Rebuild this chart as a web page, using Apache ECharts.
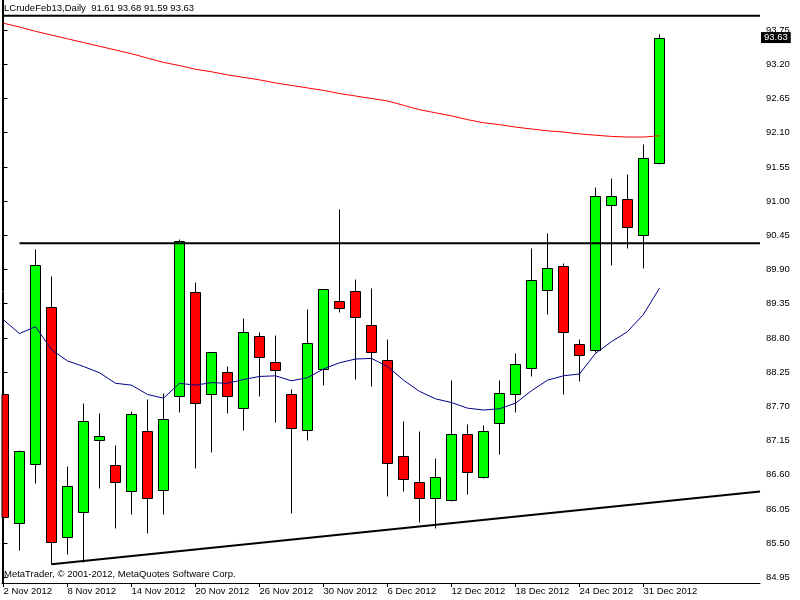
<!DOCTYPE html>
<html>
<head>
<meta charset="utf-8">
<script src="https://cdn.jsdelivr.net/npm/echarts@6/dist/echarts.min.js"></script>
<style>
html,body{margin:0;padding:0;background:#fff;}
#chart{width:800px;height:600px;}
</style>
</head>
<body>
<div id="chart"></div>
<script>
// ---- data ----
var dates = ['2 Nov 2012','5 Nov 2012','6 Nov 2012','7 Nov 2012','8 Nov 2012','9 Nov 2012','12 Nov 2012','13 Nov 2012',
  '14 Nov 2012','15 Nov 2012','16 Nov 2012','19 Nov 2012','20 Nov 2012','21 Nov 2012','22 Nov 2012','23 Nov 2012',
  '26 Nov 2012','27 Nov 2012','28 Nov 2012','29 Nov 2012','30 Nov 2012','3 Dec 2012','4 Dec 2012','5 Dec 2012',
  '6 Dec 2012','7 Dec 2012','10 Dec 2012','11 Dec 2012','12 Dec 2012','13 Dec 2012','14 Dec 2012','17 Dec 2012',
  '18 Dec 2012','19 Dec 2012','20 Dec 2012','21 Dec 2012','24 Dec 2012','26 Dec 2012','27 Dec 2012','28 Dec 2012',
  '31 Dec 2012','2 Jan 2013'];
var opens  = [87.90,85.83,86.77,89.29,85.59,86.00,87.15,86.75,86.33,87.30,86.35,87.87,89.53,87.89,88.25,87.68,
  88.83,88.42,87.89,87.32,88.30,89.39,89.55,89.00,88.44,86.90,86.49,86.22,86.19,87.25,86.56,87.43,
  87.89,88.31,89.57,89.95,88.70,88.60,90.93,91.03,90.45,91.61];
var highs  = [88.23,86.99,90.23,89.80,86.74,87.75,87.60,87.08,87.62,87.82,87.91,90.39,89.70,88.58,88.35,89.12,
  88.90,88.85,87.98,89.27,89.59,90.87,89.75,89.60,88.78,87.46,87.30,86.87,88.12,87.42,87.40,88.12,
  88.56,90.25,90.48,90.00,88.78,91.23,91.37,91.44,91.92,93.68];
var lows   = [85.76,85.39,86.46,85.16,85.32,85.20,86.38,85.74,85.96,85.67,85.96,87.61,86.70,86.97,87.60,87.32,
  87.87,87.44,85.98,87.15,88.05,89.21,88.14,88.02,86.25,86.33,85.84,85.74,86.17,86.29,86.54,86.94,
  87.61,88.19,89.19,87.89,88.11,88.57,89.98,90.25,89.93,91.59];
var closes = [85.92,86.98,89.97,85.52,86.41,87.47,87.23,86.48,87.57,86.22,87.49,90.36,87.75,88.57,87.86,88.89,
  88.49,88.28,87.35,88.71,89.58,89.28,89.13,88.57,86.78,86.53,86.22,86.57,87.25,86.64,87.30,87.91,
  88.38,89.73,89.92,88.89,88.52,91.08,91.08,90.58,91.69,93.63];
var maFast = [89.09,88.87,88.98,88.61,88.43,88.34,88.24,88.07,88.04,87.89,87.83,88.07,88.04,88.08,88.07,88.13,
  88.18,88.19,88.11,88.16,88.30,88.40,88.46,88.47,88.34,88.12,87.94,87.82,87.76,87.67,87.64,87.66,
  87.75,87.95,88.12,88.19,88.22,88.55,88.74,88.90,89.18,89.60];
var maSlow = [93.86,93.80,93.73,93.67,93.61,93.55,93.49,93.43,93.37,93.30,93.23,93.18,93.12,93.08,93.03,92.99,
  92.95,92.90,92.86,92.82,92.78,92.73,92.69,92.65,92.61,92.54,92.47,92.42,92.37,92.31,92.26,92.23,
  92.19,92.16,92.13,92.11,92.08,92.06,92.04,92.03,92.03,92.05];
var yTicks = [84.95,85.50,86.05,86.60,87.15,87.70,88.25,88.80,89.35,89.90,90.45,91.00,91.55,92.10,92.65,93.20,93.75];
var xTickIdx = [0,4,8,12,16,20,24,28,32,36,40];
var lastPrice = 93.63;
var resistance = 90.32;     // horizontal line, from bar 1
var topLevel = 93.98;       // horizontal line across the chart
var trendStart = [3, 85.16];  // rising support line anchor (bar index, price)
var trendEndPrice = 86.33;    // price of the support line at the right edge
var titleText = 'LCrudeFeb13,Daily  91.61 93.68 91.59 93.63';
var footText = 'MetaTrader, \u00a9 2001-2012, MetaQuotes Software Corp.';

// ---- axis ranges ----
var X_MIN = -0.09375, X_MAX = 47.28125;
var Y_MIN = 84.858, Y_MAX = 94.234;
var FONT = "'Liberation Sans', Arial, sans-serif";

var candleData = dates.map(function (d, i) { return [i, opens[i], highs[i], lows[i], closes[i]]; });
var fastData = maFast.map(function (v, i) { return [i, v]; });
var slowData = maSlow.map(function (v, i) { return [i, v]; });

var chart = echarts.init(document.getElementById('chart'), null, {renderer: 'canvas'});

function renderCandle(params, api) {
  var i = api.value(0), o = api.value(1), h = api.value(2), l = api.value(3), c = api.value(4);
  var pH = api.coord([i, h]), pL = api.coord([i, l]), pO = api.coord([i, o]), pC = api.coord([i, c]);
  var x = Math.round(pH[0] - 0.5) + 0.5;
  var top = Math.round(Math.min(pO[1], pC[1])) + 0.5;
  var bot = Math.round(Math.max(pO[1], pC[1])) + 0.5;
  var cs = params.coordSys;
  var body = echarts.graphic.clipRectByRect(
    {x: x - 5, y: top, width: 10, height: Math.max(bot - top, 1)},
    {x: cs.x, y: cs.y, width: cs.width, height: cs.height});
  var children = [{
    type: 'line',
    shape: {x1: x, y1: Math.round(pH[1]) + 0.5, x2: x, y2: Math.round(pL[1]) + 0.5},
    style: {stroke: '#000', lineWidth: 1}
  }];
  if (body) {
    children.push({
      type: 'rect', shape: body,
      style: {fill: c >= o ? '#00FF00' : '#FF0000', stroke: '#000', lineWidth: 1}
    });
  }
  return {type: 'group', children: children};
}

var option = {
  animation: false,
  backgroundColor: '#fff',
  textStyle: {fontFamily: FONT},
  title: [
    {text: titleText, left: 4, top: 3, padding: 0,
     textStyle: {fontSize: 9.5, fontWeight: 'normal', color: '#000', fontFamily: FONT}},
    {text: footText, left: 4, top: 569, padding: 0,
     textStyle: {fontSize: 9.5, fontWeight: 'normal', color: '#000', fontFamily: FONT}}
  ],
  grid: {left: 2, right: 40, top: 0, bottom: 17, containLabel: false},
  xAxis: {
    type: 'value', min: X_MIN, max: X_MAX,
    axisLine: {show: true, lineStyle: {color: '#000', width: 1}},
    axisTick: {show: true, length: 4, customValues: xTickIdx, lineStyle: {color: '#000'}},
    axisLabel: {
      customValues: xTickIdx, align: 'left', margin: 3,
      fontSize: 9.5, color: '#000', fontFamily: FONT,
      formatter: function (v) { return dates[Math.round(v)] || ''; }
    },
    splitLine: {show: false}
  },
  yAxis: [
    {
      type: 'value', position: 'right', min: Y_MIN, max: Y_MAX,
      axisLine: {show: true, lineStyle: {color: '#000', width: 1}},
      axisTick: {show: true, length: 4, customValues: yTicks, lineStyle: {color: '#000'}},
      axisLabel: {customValues: yTicks, margin: 6, fontSize: 9.5, color: '#000', fontFamily: FONT,
        formatter: function (v) { return v.toFixed(2); }},
      splitLine: {show: false}
    },
    {
      type: 'value', position: 'right', min: Y_MIN, max: Y_MAX, z: 5,
      axisLine: {show: false}, axisTick: {show: false},
      axisLabel: {customValues: [lastPrice], margin: 1, fontSize: 9.5, color: '#fff', fontFamily: FONT,
        backgroundColor: '#000', padding: [1, 3, 0, 3], lineHeight: 10,
        formatter: function (v) { return v.toFixed(2); }},
      splitLine: {show: false}
    },
    {
      type: 'value', position: 'left', min: Y_MIN, max: Y_MAX,
      axisLine: {show: true, lineStyle: {color: '#000', width: 1}},
      axisTick: {show: false}, axisLabel: {show: false}, splitLine: {show: false}
    }
  ],
  series: [
    {
      type: 'custom', name: 'candles', renderItem: renderCandle,
      data: candleData, encode: {x: 0, y: [1, 2, 3, 4]}, z: 2
    },
    {
      type: 'line', name: 'MA slow', data: slowData, showSymbol: false, symbol: 'none', z: 3,
      lineStyle: {color: '#FF0000', width: 1}
    },
    {
      type: 'line', name: 'MA fast', data: fastData, showSymbol: false, symbol: 'none', z: 3,
      lineStyle: {color: '#00008B', width: 1}
    },
    {
      type: 'line', name: 'resistance', data: [[1, resistance], [X_MAX, resistance]],
      showSymbol: false, symbol: 'none', z: 4, lineStyle: {color: '#000', width: 2}
    },
    {
      type: 'line', name: 'top', data: [[X_MIN, topLevel], [X_MAX, topLevel]],
      showSymbol: false, symbol: 'none', z: 4, lineStyle: {color: '#000', width: 2}
    },
    {
      type: 'line', name: 'support', data: [trendStart, [X_MAX, trendEndPrice]],
      showSymbol: false, symbol: 'none', z: 4, lineStyle: {color: '#000', width: 2}
    }
  ]
};
chart.setOption(option);
</script>
</body>
</html>
